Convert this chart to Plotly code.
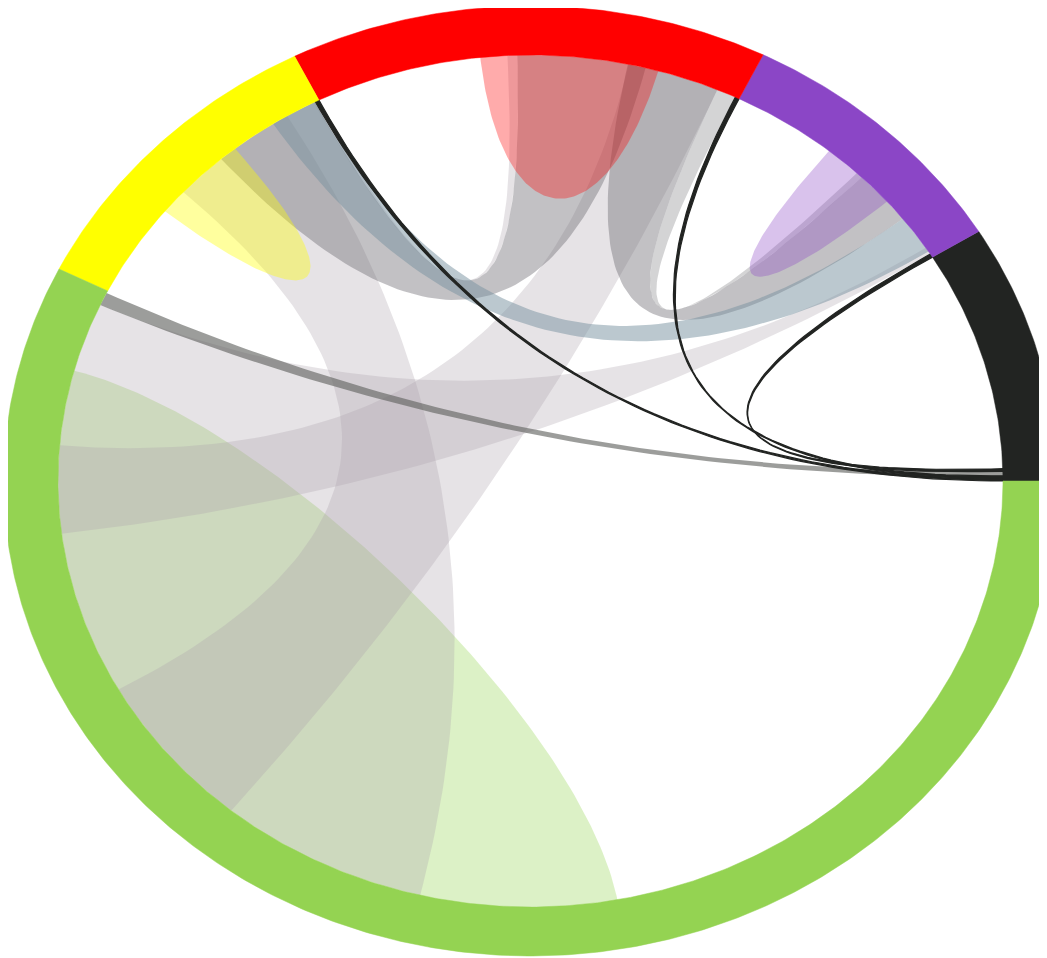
import numpy as np
import plotly.graph_objects as go

# ---------------- data ----------------
group_names = ['black', 'purple', 'red', 'yellow', 'green']
group_sizes = [31.7, 32.1, 52.8, 36.9, 206.5]          # share of the circle (degrees)
group_colors = ['#222422', '#8b46c6', '#ff0000', '#ffff00', '#94d352']

# ribbons between two different groups: (group, offset inside group, width) at each end
rib_a_group  = [4, 4, 4, 2, 3, 2, 2, 3, 4, 3, 2, 1]
rib_a_offset = [2.1, 21.7, 55.8, 27.8, 0.6, 2.9, 0.5, 0.6, 0.3, 0.0, 0.0, 0.0]
rib_a_width  = [31.5, 55.5, 47.2, 1.2, 13.7, 11.4, 2.4, 5.8, 1.8, 0.5, 0.5, 0.5]
rib_b_group  = [1, 2, 3, 3, 2, 1, 1, 1, 0, 0, 0, 0]
rib_b_offset = [0.5, 2.9, 4.4, 0.3, 12.1, 6.3, 13.8, 0.9, 0.6, 0.0, 0.35, 1.3]
rib_b_width  = [1.0, 11.3, 16.3, 0.4, 15.7, 7.5, 0.8, 5.4, 0.9, 0.35, 0.35, 0.35]
rib_kind     = ['lavender', 'lavender', 'lavender', 'lavender', 'grey', 'grey', 'lightgrey',
                'blue', 'darkgrey', 'black', 'black', 'black']

# self ribbons (a group to itself)
self_group  = [4, 2, 1, 3]
self_offset = [11.5, 10.5, 9.3, 12.1]
self_width  = [115.6, 21.8, 9.8, 12.0]

# ---------------- styles ----------------
kind_fill = {
    'lavender': 'rgba(172,163,173,0.30)',
    'lightgrey': 'rgba(120,120,125,0.32)',
    'grey': 'rgba(110,108,115,0.42)',
    'blue': 'rgba(120,145,160,0.50)',
    'darkgrey': 'rgba(95,97,93,0.62)',
    'black': 'rgba(34,36,34,1)',
}
R_IN, R_OUT = 1.0, 1.115
CTRL = 0.57


def hex_rgba(h, a):
    h = h.lstrip('#')
    return 'rgba(%d,%d,%d,%.2f)' % (int(h[0:2], 16), int(h[2:4], 16), int(h[4:6], 16), a)


starts = np.concatenate([[0.0], np.cumsum(group_sizes)[:-1]])


def pt(deg, r=1.0):
    t = np.radians(deg)
    return np.array([r * np.cos(t), r * np.sin(t)])


def arc(d1, d2, r=1.0):
    n = max(int(abs(d2 - d1) * 2) + 2, 4)
    t = np.radians(np.linspace(d1, d2, n))
    return np.column_stack([r * np.cos(t), r * np.sin(t)])


def quad(p0, p2, n=80):
    t = np.linspace(0, 1, n)[:, None]
    return (1 - t) ** 2 * p0 + t ** 2 * p2


def cubic(p0, c1, c2, p3, n=120):
    t = np.linspace(0, 1, n)[:, None]
    return (1 - t) ** 3 * p0 + 3 * (1 - t) ** 2 * t * c1 + 3 * (1 - t) * t ** 2 * c2 + t ** 3 * p3


def ribbon(a1, a2, b1, b2):
    parts = [arc(a1, a2), quad(pt(a2), pt(b1)), arc(b1, b2), quad(pt(b2), pt(a1))]
    return np.vstack(parts)


def self_ribbon(a1, a2):
    parts = [arc(a1, a2), cubic(pt(a2), CTRL * pt(a2), CTRL * pt(a1), pt(a1))]
    return np.vstack(parts)


fig = go.Figure()


def add_poly(xy, fill, lw=0, lc=None):
    fig.add_trace(go.Scatter(
        x=np.append(xy[:, 0], xy[0, 0]), y=np.append(xy[:, 1], xy[0, 1]),
        mode='lines', fill='toself', fillcolor=fill,
        line=dict(width=lw, color=lc if lc else fill),
        hoverinfo='skip', showlegend=False))


def self_trace(k):
    g = self_group[k]
    a1 = starts[g] + self_offset[k]
    a2 = a1 + self_width[k]
    alpha = 0.38 if group_names[g] == 'yellow' else 0.33
    add_poly(self_ribbon(a1, a2), hex_rgba(group_colors[g], alpha))


def rib_trace(i):
    a1 = starts[rib_a_group[i]] + rib_a_offset[i]
    a2 = a1 + rib_a_width[i]
    b1 = starts[rib_b_group[i]] + rib_b_offset[i]
    b2 = b1 + rib_b_width[i]
    kind = rib_kind[i]
    lw = 1.2 if kind == 'black' else 0
    add_poly(ribbon(a1, a2, b1, b2), kind_fill[kind], lw=lw)


# draw order: green self ribbon, light ribbons, greys, blue, other self ribbons, dark lines
self_trace(0)
for kind in ['lavender', 'lightgrey', 'grey', 'blue']:
    for i in range(len(rib_kind)):
        if rib_kind[i] == kind:
            rib_trace(i)
for k in range(1, len(self_group)):
    self_trace(k)
for kind in ['darkgrey', 'black']:
    for i in range(len(rib_kind)):
        if rib_kind[i] == kind:
            rib_trace(i)

# ideogram ring
for g in range(len(group_sizes)):
    d1 = starts[g]
    d2 = d1 + group_sizes[g]
    xy = np.vstack([arc(d1, d2, R_OUT), arc(d2, d1, R_IN)])
    add_poly(xy, group_colors[g], lw=0.5, lc=group_colors[g])

fig.update_layout(
    width=1047, height=958,
    margin=dict(l=0, r=0, t=0, b=0),
    paper_bgcolor='white', plot_bgcolor='white',
    showlegend=False, hovermode=False,
    xaxis=dict(range=[-1.1058, 1.1101], visible=False, fixedrange=True),
    yaxis=dict(range=[-1.1385, 1.1103], visible=False, fixedrange=True),
)
fig.write_html('out.html')
